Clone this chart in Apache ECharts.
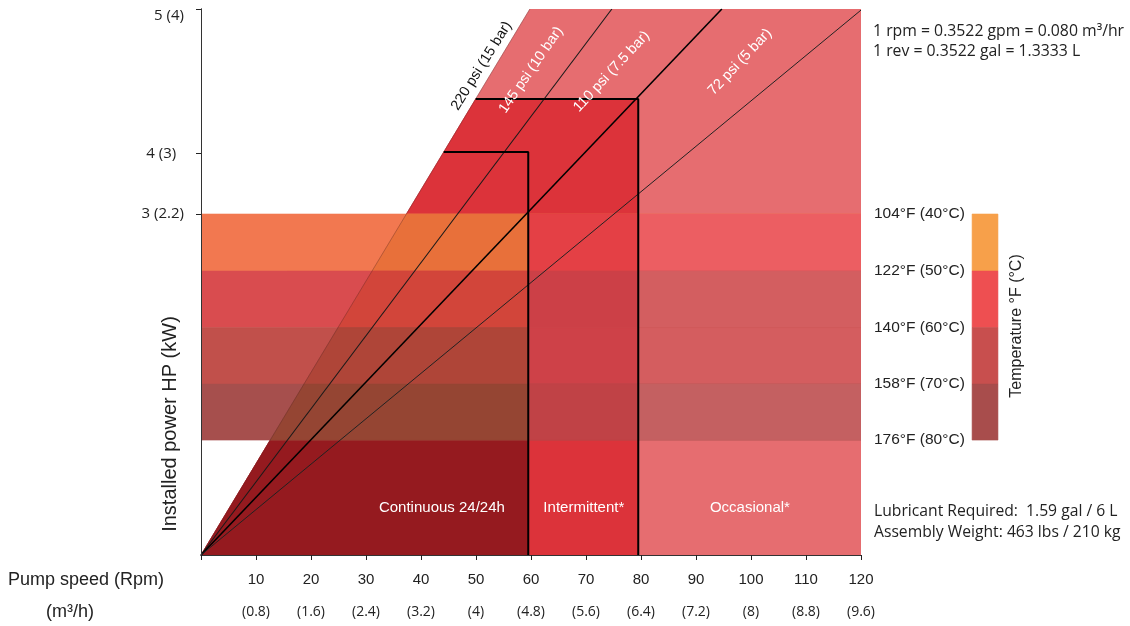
<!DOCTYPE html>
<html>
<head>
<meta charset="utf-8">
<script src="https://cdn.jsdelivr.net/npm/echarts@6/dist/echarts.min.js"></script>
<style>html,body{margin:0;padding:0;background:#fff}#c{width:1130px;height:626px}</style>
</head>
<body>
<div id="c"></div>
<script>
// ---------- DATA ----------
const rpmTicks = [10, 20, 30, 40, 50, 60, 70, 80, 90, 100, 110, 120];
const flowLabels = ['(0.8)', '(1.6)', '(2.4)', '(3.2)', '(4)', '(4.8)', '(5.6)', '(6.4)', '(7.2)', '(8)', '(8.8)', '(9.6)'];
const hpTickPos = [62.5, 73.5, 100];
const hpLabelPos = [62.5, 73.5, 98.7];
const hpLabels = ['3 (2.2)', '4 (3)  ', '5 (4)'];
const tempEdges = [62.45, 52.0, 41.65, 31.3, 21.05];
const tempLabels = ['104°F (40°C)', '122°F (50°C)', '140°F (60°C)', '158°F (70°C)', '176°F (80°C)'];
const psiNames = ['220 psi (15 bar)', '145 psi (10 bar)', '110 psi (7.5 bar)', '72 psi (5 bar)'];
const psiEndRpm = [59.8, 74.7, 94.7, 120];
const psiEndPower = [100, 100, 100, 99.8];
const dutyNames = ['Continuous 24/24h', 'Intermittent*', 'Occasional*'];
const dutyMaxRpm = [59.5, 79.5, 120];
const dutyMaxPower = [73.8, 83.5, 100];

// ---------- STYLE / LAYOUT ----------
const ARIAL = '"Liberation Sans", Arial, Helvetica, sans-serif';
const MYRIAD = '"Open Sans", "Noto Sans", sans-serif';
const zoneColors = ['#951A1F', '#DC333A', '#E66D70'];
const bandOverWhite = ['#F27850', '#D94C4F', '#C1504B', '#A64F4D'];
const bandOverCont = ['#E8703A', '#D2453A', '#AF4538', '#954533'];
const bandOverInt = ['#E44045', '#CC4047', '#CE4148', '#C04246'];
const bandOverOcc = ['#EC5E62', '#D35E60', '#D45D5F', '#C46061'];
const legendColors = ['#F7A04A', '#EE4F51', '#C84F4E', '#A84D4C'];
const legendX = [140.2, 144.9];
const psiLineStyles = [
  {color: 'rgba(90,40,40,0.35)', width: 1},
  {color: '#1a1a1a', width: 1.1},
  {color: '#000', width: 1.6},
  {color: '#222', width: 1}
];
const psiLabelPos = [[51.0, 89.6, 58], [60.0, 88.83, 55.4], [74.64, 88.55, 47.2], [98.0, 90.29, 46.7]];
const psiLabelColor = ['#111', '#fff', '#fff', '#fff'];
const dutyLabelPos = [[43.8, 8.6], [69.6, 8.6], [99.8, 8.6]];

// ---------- GEOMETRY (built from data) ----------
const x220 = y => psiEndRpm[0] * y / psiEndPower[0];
const polys = [];
polys.push({pts: [[0, 0], [x220(100), 100], [120, 100], [120, 0]], color: zoneColors[2]});
polys.push({pts: [[0, 0], [x220(dutyMaxPower[1]), dutyMaxPower[1]], [dutyMaxRpm[1], dutyMaxPower[1]], [dutyMaxRpm[1], 0]], color: zoneColors[1]});
const lowEdge = tempEdges[tempEdges.length - 1];
polys.push({pts: [[0, 0], [x220(lowEdge), lowEdge], [dutyMaxRpm[0], lowEdge], [dutyMaxRpm[0], 0]], color: zoneColors[0]});
for (let k = 0; k < 4; k++) {
  const hi = tempEdges[k], lo = tempEdges[k + 1];
  polys.push({pts: [[0, lo], [0, hi], [120, hi], [120, lo]], color: bandOverWhite[k]});
  polys.push({pts: [[x220(lo), lo], [x220(hi), hi], [dutyMaxRpm[0], hi], [dutyMaxRpm[0], lo]], color: bandOverCont[k]});
  polys.push({pts: [[dutyMaxRpm[0], lo], [dutyMaxRpm[0], hi], [dutyMaxRpm[1], hi], [dutyMaxRpm[1], lo]], color: bandOverInt[k]});
  polys.push({pts: [[dutyMaxRpm[1], lo], [dutyMaxRpm[1], hi], [120, hi], [120, lo]], color: bandOverOcc[k]});
}
const legendPolys = [];
for (let k = 0; k < 4; k++) {
  const hi = tempEdges[k], lo = tempEdges[k + 1];
  legendPolys.push({pts: [[legendX[0], lo], [legendX[0], hi], [legendX[1], hi], [legendX[1], lo]], color: legendColors[k]});
}

function polySeries(list, clip, z) {
  return {
    type: 'custom', silent: true, clip: clip, z: z, animation: false,
    data: list.map((p, i) => [p.pts[0][0], p.pts[0][1], i]),
    renderItem: (params, api) => {
      const p = list[params.dataIndex];
      return {type: 'polygon', shape: {points: p.pts.map(pt => api.coord(pt))},
        style: {fill: p.color, stroke: p.color, lineWidth: 0.6}};
    }
  };
}

const series = [];
series.push(polySeries(polys, true, 1));
series.push(polySeries(legendPolys, false, 1));
psiNames.forEach((n, i) => {
  series.push({type: 'line', name: n, silent: true, z: 3, symbol: 'none', animation: false,
    data: [[0, 0], [psiEndRpm[i], psiEndPower[i]]],
    lineStyle: {color: psiLineStyles[i].color, width: psiLineStyles[i].width}});
});
for (let d = 0; d < 2; d++) {
  series.push({type: 'line', silent: true, z: 4, symbol: 'none', animation: false,
    data: [[x220(dutyMaxPower[d]), dutyMaxPower[d]], [dutyMaxRpm[d], dutyMaxPower[d]], [dutyMaxRpm[d], 0]],
    lineStyle: {color: '#000', width: 2}});
}
const textItems = [];
psiNames.forEach((n, i) => textItems.push({x: psiLabelPos[i][0], y: psiLabelPos[i][1], rot: psiLabelPos[i][2], text: n, color: psiLabelColor[i], size: 14.5}));
dutyNames.forEach((n, i) => textItems.push({x: dutyLabelPos[i][0], y: dutyLabelPos[i][1], rot: 0, text: n, color: '#fff', size: 15}));
series.push({
  type: 'custom', silent: true, z: 5, clip: false, animation: false,
  data: textItems.map((t, i) => [t.x, t.y, i]),
  renderItem: (params, api) => {
    const t = textItems[params.dataIndex];
    const p = api.coord([t.x, t.y]);
    return {type: 'text', x: p[0], y: p[1], rotation: t.rot * Math.PI / 180,
      style: {text: t.text, fill: t.color, fontSize: t.size, fontFamily: ARIAL,
        align: 'center', verticalAlign: 'middle', textAlign: 'center', textVerticalAlign: 'middle'}};
  }
});

const chart = echarts.init(document.getElementById('c'), null, {renderer: 'canvas'});
chart.setOption({
  animation: false,
  backgroundColor: '#fff',
  grid: {left: 201, right: 269, top: 9, bottom: 71, containLabel: false},
  xAxis: [{
    type: 'value', min: 0, max: 120, interval: 10, z: 10,
    axisLine: {show: true, lineStyle: {color: '#222', width: 1}},
    axisTick: {show: true, length: 5, inside: false, lineStyle: {color: '#222'}},
    splitLine: {show: false},
    axisLabel: {
      margin: 9,
      formatter: v => {
        const i = rpmTicks.indexOf(v);
        return i < 0 ? '' : '{a|' + rpmTicks[i] + '}\n{b|' + flowLabels[i] + '}';
      },
      rich: {
        a: {fontFamily: ARIAL, fontSize: 15, color: '#222', lineHeight: 32},
        b: {fontFamily: MYRIAD, fontSize: 14, color: '#222', lineHeight: 32}
      }
    }
  }, {
    type: 'value', min: 0, max: 120, position: 'top', z: 10,
    axisLine: {show: true, lineStyle: {color: '#333', width: 1}},
    axisTick: {show: false}, axisLabel: {show: false}, splitLine: {show: false}
  }],
  yAxis: [{
    type: 'value', min: 0, max: 100, z: 10,
    axisLine: {show: true, lineStyle: {color: '#222', width: 1}},
    axisTick: {show: true, length: 5, customValues: hpTickPos, lineStyle: {color: '#222'}},
    splitLine: {show: false},
    axisLabel: {
      margin: 17, customValues: hpLabelPos,
      fontFamily: MYRIAD, fontSize: 15, color: '#222',
      formatter: v => {
        let best = 0;
        hpLabelPos.forEach((p, i) => { if (Math.abs(p - v) < Math.abs(hpLabelPos[best] - v)) best = i; });
        return hpLabels[best];
      }
    }
  }, {
    type: 'value', min: 0, max: 100, position: 'right', z: 10,
    axisLine: {show: true, lineStyle: {color: '#333', width: 1}},
    axisTick: {show: false},
    splitLine: {show: false},
    axisLabel: {
      margin: 13, customValues: tempEdges,
      fontFamily: ARIAL, fontSize: 15.5, color: '#222', padding: [0, 0, 10, 0],
      formatter: v => {
        let best = 0;
        tempEdges.forEach((p, i) => { if (Math.abs(p - v) < Math.abs(tempEdges[best] - v)) best = i; });
        return tempLabels[best];
      }
    }
  }],
  graphic: [
    {type: 'text', x: 170, y: 424, rotation: Math.PI / 2,
      style: {text: 'Installed power HP (kW)', fontFamily: ARIAL, fontSize: 20, fill: '#222', align: 'center', verticalAlign: 'middle'}},
    {type: 'text', x: 8, y: 580,
      style: {text: 'Pump speed (Rpm)', fontFamily: ARIAL, fontSize: 18, fill: '#222', align: 'left', verticalAlign: 'middle'}},
    {type: 'text', x: 70, y: 612,
      style: {text: '(m³/h)', fontFamily: ARIAL, fontSize: 18, fill: '#222', align: 'center', verticalAlign: 'middle'}},
    {type: 'text', x: 873, y: 31,
      style: {text: '1 rpm = 0.3522 gpm = 0.080 m³/hr', fontFamily: MYRIAD, fontSize: 15.8, fill: '#222', align: 'left', verticalAlign: 'middle'}},
    {type: 'text', x: 873, y: 51,
      style: {text: '1 rev = 0.3522 gal = 1.3333 L', fontFamily: MYRIAD, fontSize: 15.8, fill: '#222', align: 'left', verticalAlign: 'middle'}},
    {type: 'text', x: 874, y: 512,
      style: {text: 'Lubricant Required:  1.59 gal / 6 L', fontFamily: MYRIAD, fontSize: 15.7, fill: '#222', align: 'left', verticalAlign: 'middle'}},
    {type: 'text', x: 874, y: 533,
      style: {text: 'Assembly Weight: 463 lbs / 210 kg', fontFamily: MYRIAD, fontSize: 15.7, fill: '#222', align: 'left', verticalAlign: 'middle'}},
    {type: 'text', x: 1017, y: 326, rotation: Math.PI / 2,
      style: {text: 'Temperature °F (°C)', fontFamily: ARIAL, fontSize: 16, fill: '#222', align: 'center', verticalAlign: 'middle'}}
  ],
  series: series
});
</script>
</body>
</html>
